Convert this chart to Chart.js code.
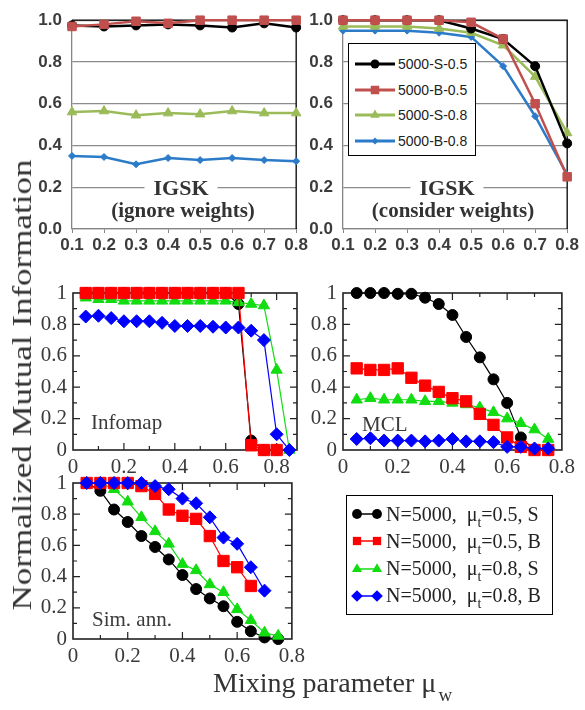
<!DOCTYPE html>
<html>
<head>
<meta charset="utf-8">
<script src="https://cdn.jsdelivr.net/npm/chart.js@4.4.0/dist/chart.umd.min.js"></script>
<style>
    body { margin: 0; width: 585px; height: 710px; position: relative; overflow: hidden; background: #fff; font-family: 'Liberation Serif', 'Times New Roman', serif; }
    canvas { position: absolute; }
    .lbl { position: absolute; white-space: nowrap; color: #333; }
    .igsk { font-weight: bold; font-size: 22px; background: #fff; padding: 0 9px; transform: translate(-50%, -50%); line-height: 22px; }
    .igskSub { font-weight: bold; font-size: 21px; transform: translate(-50%, -50%); line-height: 22px; }
    .panelName { font-size: 21px; color: #3a3a3a; transform: translateY(-50%); }
    .box { position: absolute; background: #fff; border: 1.5px solid #000; box-sizing: border-box; }
    .row { position: absolute; left: 0; display: flex; align-items: center; white-space: pre; }
    .row svg { display: block; }
</style>
</head>
<body>
<canvas id="igskIgnore" width="290" height="255" style="left:20px;top:0px"></canvas>
<canvas id="igskConsider" width="290" height="255" style="left:291px;top:0px"></canvas>
<canvas id="infomap" width="290" height="215" style="left:20px;top:270px"></canvas>
<canvas id="mcl" width="290" height="215" style="left:290px;top:270px"></canvas>
<canvas id="simAnn" width="290" height="215" style="left:20px;top:460px"></canvas>

<div class="lbl igsk" style="left:181px;top:188px">IGSK</div>
<div class="lbl igskSub" style="left:183px;top:210px">(ignore weights)</div>
<div class="lbl igsk" style="left:447px;top:188px">IGSK</div>
<div class="lbl igskSub" style="left:453px;top:210px">(consider weights)</div>
<div class="lbl panelName" style="left:91px;top:422px">Infomap</div>
<div class="lbl panelName" style="left:362px;top:424px">MCL</div>
<div class="lbl panelName" style="left:92px;top:619px">Sim. ann.</div>

<div class="box" id="topLegend" style="left:348px;top:43px;width:128px;height:113px"></div>
<div class="box" id="bottomLegend" style="left:346px;top:495px;width:207px;height:120px"></div>

<div class="lbl" style="left:22px;top:385px;font-size:28px;transform:translate(-50%,-50%) rotate(-90deg) scaleX(1.25);">Normalized Mutual Information</div>
<div class="lbl" style="left:213px;top:668px;font-size:28px;line-height:1.1;">Mixing parameter μ<span style="font-size:19px;position:relative;top:9px;left:2px">w</span></div>

<script>
// top row (IGSK), mixing parameter 0.1 .. 0.8
const xTop = [0.1, 0.2, 0.3, 0.4, 0.5, 0.6, 0.7, 0.8];
const ignoreS05 = [0.975, 0.97, 0.975, 0.98, 0.975, 0.965, 0.985, 0.965];
const ignoreB05 = [0.97, 0.98, 0.995, 0.985, 1.0, 1.0, 1.0, 1.0];
const ignoreS08 = [0.56, 0.565, 0.545, 0.555, 0.55, 0.565, 0.555, 0.555];
const ignoreB08 = [0.35, 0.345, 0.31, 0.34, 0.33, 0.34, 0.33, 0.325];
const considerS05 = [1.0, 1.0, 1.0, 1.0, 0.96, 0.91, 0.78, 0.41];
const considerB05 = [1.0, 1.0, 1.0, 1.0, 0.99, 0.91, 0.60, 0.25];
const considerS08 = [0.97, 0.97, 0.97, 0.96, 0.94, 0.88, 0.73, 0.46];
const considerB08 = [0.95, 0.95, 0.95, 0.94, 0.92, 0.78, 0.54, 0.26];

// lower panels, mixing parameter in steps of 0.05
const xInfomap = [0.05, 0.1, 0.15, 0.2, 0.25, 0.3, 0.35, 0.4, 0.45, 0.5, 0.55, 0.6, 0.65, 0.7, 0.75, 0.8, 0.85];
const infomapS05 = [1, 1, 1, 1, 1, 1, 1, 1, 1, 1, 1, 1, 0.93, 0.06, 0, 0];
const infomapB05 = [1, 1, 1, 1, 1, 1, 1, 1, 1, 1, 1, 1, 1, 0.03, 0, 0];
const infomapS08 = [0.97, 0.96, 0.96, 0.95, 0.95, 0.95, 0.95, 0.95, 0.95, 0.95, 0.95, 0.95, 0.94, 0.93, 0.92, 0.51, 0];
const infomapB08 = [0.85, 0.855, 0.84, 0.82, 0.82, 0.82, 0.81, 0.79, 0.79, 0.79, 0.785, 0.78, 0.78, 0.76, 0.70, 0.10, 0];

const xMcl = [0.05, 0.1, 0.15, 0.2, 0.25, 0.3, 0.35, 0.4, 0.45, 0.5, 0.55, 0.6, 0.65, 0.7, 0.75];
const mclS05 = [1, 1, 1, 0.995, 0.995, 0.97, 0.93, 0.86, 0.72, 0.59, 0.45, 0.30, 0.08, 0, 0];
const mclB05 = [0.52, 0.51, 0.51, 0.52, 0.46, 0.41, 0.37, 0.33, 0.31, 0.23, 0.16, 0.08, 0.02, 0, 0];
const mclS08 = [0.32, 0.33, 0.32, 0.32, 0.32, 0.31, 0.31, 0.30, 0.29, 0.27, 0.24, 0.20, 0.17, 0.13, 0.07];
const mclB08 = [0.07, 0.075, 0.06, 0.06, 0.06, 0.055, 0.06, 0.07, 0.055, 0.055, 0.05, 0.02, 0.02, 0.01, 0.01];

const xSim = [0.05, 0.1, 0.15, 0.2, 0.25, 0.3, 0.35, 0.4, 0.45, 0.5, 0.55, 0.6, 0.65, 0.7, 0.75];
const simS05 = [1, 0.95, 0.83, 0.75, 0.66, 0.59, 0.51, 0.41, 0.32, 0.26, 0.21, 0.11, 0.05, 0.01, 0];
const simB05 = [1, 1, 1, 1, 0.98, 0.93, 0.83, 0.79, 0.77, 0.66, 0.50, 0.46, 0.34];
const simS08 = [1, 1, 0.96, 0.88, 0.78, 0.69, 0.61, 0.48, 0.44, 0.35, 0.30, 0.19, 0.12, 0.04, 0.02];
const simB08 = [1, 1, 1, 1, 1, 0.98, 0.96, 0.90, 0.87, 0.78, 0.65, 0.61, 0.46, 0.31];

// series names
const topLabels = ['5000-S-0.5', '5000-B-0.5', '5000-S-0.8', '5000-B-0.8'];
const muT = ['0.5', '0.5', '0.8', '0.8'];
const kinds = ['S', 'B', 'S', 'B'];

// looks
const pointStyles = ['circle', 'rect', 'triangle', 'rectRot'];
const topColors = ['#000000', '#c0504d', '#9bbb59', '#2b7bc9'];
const topRadius = [4.5, 6, 5.5, 3.5];
const topOrder = [1, 0, 2, 3];
const lowColors = ['#000000', '#ff0000', '#11dd11', '#0000ff'];
const lowRadius = [5.5, 8, 6.5, 6.5];
const lowOrder = [3, 1, 2, 0];

// frame around plot area: excel style (black top/right) or grace style (box + inner ticks)
const framePlugin = {
    id: 'frame',
    beforeDatasetsDraw(chart, args, opts) {
        const { ctx, chartArea: a } = chart;
        ctx.save();
        if (opts.style === 'excel') {
            ctx.strokeStyle = '#000';
            ctx.lineWidth = 1.3;
            ctx.beginPath();
            ctx.moveTo(a.left, a.top);
            ctx.lineTo(a.right, a.top);
            ctx.lineTo(a.right, a.bottom);
            ctx.stroke();
        } else if (opts.style === 'grace') {
            const xs = chart.scales.x, ys = chart.scales.y;
            ctx.strokeStyle = '#222';
            ctx.lineWidth = 1.2;
            ctx.beginPath();
            for (let i = 1; i * 0.1 < xs.max - 1e-6; i++) {
                const px = xs.getPixelForValue(i * 0.1);
                const len = i % 2 ? 4 : 7;
                ctx.moveTo(px, a.bottom); ctx.lineTo(px, a.bottom - len);
                ctx.moveTo(px, a.top); ctx.lineTo(px, a.top + len);
            }
            for (let i = 1; i * 0.1 < ys.max - 1e-6; i++) {
                const py = ys.getPixelForValue(i * 0.1);
                const len = i % 2 ? 4 : 7;
                ctx.moveTo(a.left, py); ctx.lineTo(a.left + len, py);
                ctx.moveTo(a.right, py); ctx.lineTo(a.right - len, py);
            }
            ctx.stroke();
            ctx.lineWidth = 1.6;
            ctx.strokeRect(a.left, a.top, a.width, a.height);
        }
        ctx.restore();
    }
};
Chart.register(framePlugin);

function series(xs, ys, i, top) {
    const color = top ? topColors[i] : lowColors[i];
    return {
        label: topLabels[i],
        data: ys.map((y, k) => ({ x: xs[k], y: y })),
        borderColor: color,
        backgroundColor: color,
        pointBackgroundColor: color,
        pointBorderColor: color,
        pointBorderWidth: 1,
        pointStyle: pointStyles[i],
        pointRadius: top ? topRadius[i] : lowRadius[i],
        borderWidth: top ? 2.5 : 1.2,
        order: top ? topOrder[i] : lowOrder[i],
        clip: false,
        tension: 0
    };
}

function topChart(id, sets, padRight, padTop) {
    new Chart(document.getElementById(id), {
        type: 'line',
        data: { datasets: sets.map((ys, i) => series(xTop, ys, i, true)) },
        options: {
            responsive: false,
            animation: false,
            layout: { padding: { top: padTop, right: padRight, left: 0, bottom: 0 } },
            plugins: { legend: { display: false }, tooltip: { enabled: false }, frame: { style: 'excel' } },
            scales: {
                x: {
                    type: 'linear', min: 0.1, max: 0.8,
                    afterFit: s => { s.height = 26; },
                    border: { color: '#868686', width: 1.3 },
                    grid: { drawOnChartArea: false, drawTicks: true, tickLength: 4, color: '#868686' },
                    ticks: {
                        stepSize: 0.1, padding: 2, color: '#3c3c3c', maxRotation: 0,
                        font: { family: "'Liberation Sans', Arial, sans-serif", size: 17, weight: 'bold' },
                        callback: v => v.toFixed(1)
                    }
                },
                y: {
                    min: 0, max: 1,
                    afterFit: s => { s.width = 52; },
                    border: { color: '#868686', width: 1.3 },
                    grid: { color: '#8c8c8c', lineWidth: 1.2, drawTicks: false },
                    ticks: {
                        stepSize: 0.2, padding: 10, color: '#3c3c3c',
                        font: { family: "'Liberation Sans', Arial, sans-serif", size: 17, weight: 'bold' },
                        callback: v => v.toFixed(1)
                    }
                }
            }
        }
    });
}

function lowChart(id, xs, sets, xMax, xHeight) {
    new Chart(document.getElementById(id), {
        type: 'line',
        data: { datasets: sets.map((ys, i) => series(xs, ys, i, false)) },
        options: {
            responsive: false,
            animation: false,
            layout: { padding: { top: 23, right: 13, left: 0, bottom: 0 } },
            plugins: { legend: { display: false }, tooltip: { enabled: false }, frame: { style: 'grace' } },
            scales: {
                x: {
                    type: 'linear', min: 0, max: xMax,
                    afterFit: s => { s.height = xHeight; },
                    border: { display: false },
                    grid: { display: false, drawTicks: false },
                    ticks: {
                        stepSize: 0.2, includeBounds: false, padding: 5, color: '#3a3a3a', maxRotation: 0,
                        font: { family: "'Liberation Serif', serif", size: 21 },
                        callback: v => String(+v.toFixed(1))
                    }
                },
                y: {
                    min: 0, max: 1,
                    afterFit: s => { s.width = 53; },
                    border: { display: false },
                    grid: { display: false, drawTicks: false },
                    ticks: {
                        stepSize: 0.2, padding: 6, color: '#3a3a3a',
                        font: { family: "'Liberation Serif', serif", size: 21 },
                        callback: v => String(+v.toFixed(1))
                    }
                }
            }
        }
    });
}

topChart('igskIgnore', [ignoreS05, ignoreB05, ignoreS08, ignoreB08], 10, 19);
topChart('igskConsider', [considerS05, considerB05, considerS08, considerB08], 11, 20);
lowChart('infomap', xInfomap, [infomapS05, infomapB05, infomapS08, infomapB08], 0.88, 35);
lowChart('mcl', xMcl, [mclS05, mclB05, mclS08, mclB08], 0.8, 35);
lowChart('simAnn', xSim, [simS05, simB05, simS08, simB08], 0.8, 36);

// legend glyphs
function marker(style, color, r, cx, cy) {
    if (style === 'circle') return `<circle cx="${cx}" cy="${cy}" r="${r}" fill="${color}"/>`;
    if (style === 'rect') {
        const s = r * Math.SQRT1_2;
        return `<rect x="${cx - s}" y="${cy - s}" width="${2 * s}" height="${2 * s}" fill="${color}"/>`;
    }
    if (style === 'triangle') {
        return `<polygon points="${cx},${cy - r} ${cx + r * 0.866},${cy + r / 2} ${cx - r * 0.866},${cy + r / 2}" fill="${color}"/>`;
    }
    return `<polygon points="${cx - r},${cy} ${cx},${cy - r} ${cx + r},${cy} ${cx},${cy + r}" fill="${color}"/>`;
}

const topLegend = document.getElementById('topLegend');
topLabels.forEach((t, i) => {
    const row = document.createElement('div');
    row.className = 'row';
    row.style.top = (20 + i * 25.7 - 9) + 'px';
    row.style.left = '6px';
    row.innerHTML = `<svg width="40" height="18"><line x1="0" y1="9" x2="40" y2="9" stroke="${topColors[i]}" stroke-width="3"/>` +
        marker(pointStyles[i], topColors[i], topRadius[i], 20, 9) + `</svg>` +
        `<span style="font-family:'Liberation Sans',Arial,sans-serif;font-size:14px;color:#222;margin-left:3px">${t}</span>`;
    topLegend.appendChild(row);
});

const bottomLegend = document.getElementById('bottomLegend');
muT.forEach((m, i) => {
    const row = document.createElement('div');
    row.className = 'row';
    row.style.top = (18 + i * 27.3 - 13) + 'px';
    row.style.left = '4px';
    const r = Math.min(lowRadius[i], 6.5) * 0.9;
    row.innerHTML = `<svg width="32" height="26"><line x1="6" y1="13" x2="26" y2="13" stroke="${lowColors[i]}" stroke-width="1.5"/>` +
        marker(pointStyles[i], lowColors[i], r, 6, 13) + marker(pointStyles[i], lowColors[i], r, 26, 13) + `</svg>` +
        `<span style="font-size:20px;color:#222;margin-left:3px">N=5000,  μ<span style="font-size:14px;position:relative;top:6px">t</span>=${m}, ${kinds[i]}</span>`;
    bottomLegend.appendChild(row);
});
</script>
</body>
</html>
